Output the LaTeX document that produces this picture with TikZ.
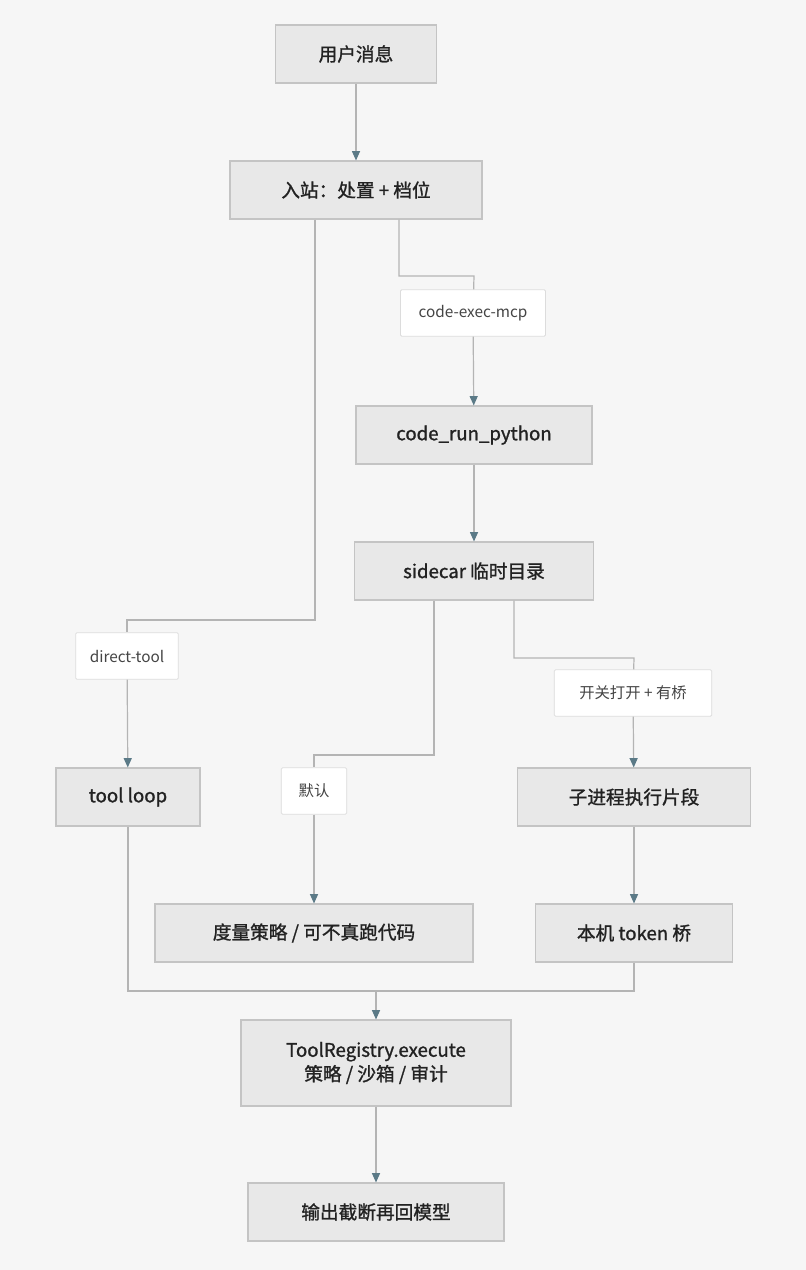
\documentclass[tikz,border=0pt]{standalone}
\usepackage{fontspec}
\setmainfont{Noto Sans CJK SC}
\newfontfamily\medf[FakeBold=1.2]{Noto Sans CJK SC}
\usetikzlibrary{arrows.meta}
\definecolor{boxf}{HTML}{E8E8E8}
\definecolor{boxd}{HTML}{C4C4C4}
\definecolor{edge}{HTML}{B4B4B4}
\definecolor{tip}{HTML}{5B7A87}
\definecolor{txt}{HTML}{222222}
\definecolor{ltxt}{HTML}{444444}
\definecolor{bg}{HTML}{F6F6F6}
\begin{document}
\begin{tikzpicture}[x=0.75pt,y=-0.75pt,
  box/.style={draw=boxd,fill=boxf,line width=0.8pt,text=txt,font=\medf\fontsize{14}{18}\selectfont,align=center,inner sep=0pt},
  lab/.style={draw=boxd!60,fill=white,line width=0.6pt,text=ltxt,font=\fontsize{11.5}{14}\selectfont,inner sep=0pt,rounded corners=1pt},
  ed/.style={draw=edge,line width=0.9pt},
  ar/.style={ed,-{Triangle[length=7pt,width=6pt,fill=tip,color=tip]}}]
\fill[bg] (0,0) rectangle (806,1270);
\node[box,minimum width=121pt,minimum height=43.5pt] (u) at (356,54) {用户消息};
\node[box,minimum width=189pt,minimum height=43.5pt] (in) at (356,190) {入站：处置 + 档位};
\node[lab,minimum width=108.75pt,minimum height=35pt] (l1) at (473,313) {code-exec-mcp};
\node[box,minimum width=177pt,minimum height=43.5pt] (cr) at (474,435) {code\_run\_python};
\node[box,minimum width=179pt,minimum height=43.5pt] (sc) at (474,571) {sidecar 临时目录};
\node[lab,minimum width=77pt,minimum height=35pt] (l2) at (127,656) {direct-tool};
\node[lab,minimum width=118pt,minimum height=35pt] (l3) at (633,693) {开关打开 + 有桥};
\node[box,minimum width=108pt,minimum height=43.5pt] (tl) at (128,797) {tool loop};
\node[lab,minimum width=49pt,minimum height=35pt] (l4) at (314,791) {默认};
\node[box,minimum width=175pt,minimum height=43.5pt] (sp) at (634,797) {子进程执行片段};
\node[box,minimum width=238.5pt,minimum height=43.5pt] (ms) at (314,933) {度量策略 / 可不真跑代码};
\node[box,minimum width=148pt,minimum height=43.5pt] (tb) at (634,933) {本机 token 桥};
\node[box,minimum width=202.5pt,minimum height=64.5pt] (tr) at (376,1063) {ToolRegistry.execute\\策略 / 沙箱 / 审计};
\node[box,minimum width=192pt,minimum height=43.5pt] (out) at (376,1212) {输出截断再回模型};
\draw[ar] (u) -- (in);
\draw[ed] (in.south -| 399,0) |- (474,276) -- (l1);
\draw[ar] (l1) -- (cr);
\draw[ed] (in.south -| 315,0) |- (127,620) -- (l2);
\draw[ar] (l2) -- (tl);
\draw[ar] (cr) -- (sc);
\draw[ed] (sc.south -| 434,0) |- (314,755) -- (l4);
\draw[ar] (l4) -- (ms);
\draw[ed] (sc.south -| 514,0) |- (634,658) -- (l3);
\draw[ar] (l3) -- (sp);
\draw[ar] (sp) -- (tb);
\coordinate (m) at (376,991);
\draw[ed] (tl.south) |- (m);
\draw[ed] (tb.south) |- (m);
\draw[ar] (m) -- (tr);
\draw[ar] (tr) -- (out);
\end{tikzpicture}
\end{document}
